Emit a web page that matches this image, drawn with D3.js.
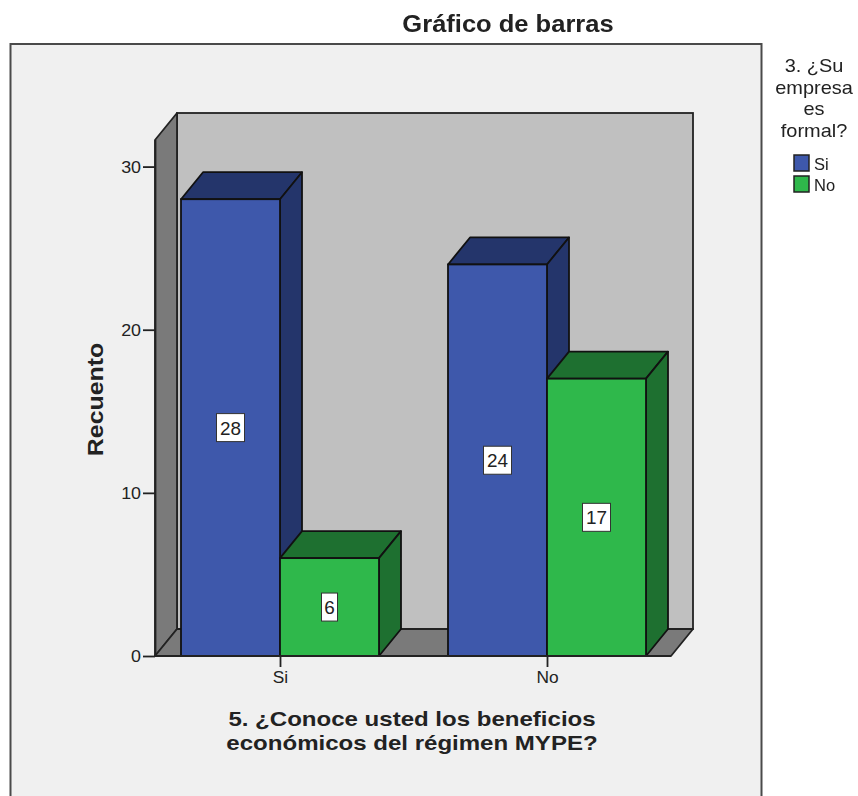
<!DOCTYPE html>
<html>
<head>
<meta charset="utf-8">
<script src="https://cdn.jsdelivr.net/npm/d3@7"></script>
<style>
    html, body { margin: 0; padding: 0; background: #fff; overflow: hidden; }
    text { font-family: "Liberation Sans", Arial, sans-serif; fill: #222; }
    svg { filter: blur(0.45px); }
</style>
</head>
<body>
<div id="chart"></div>
<script>
// Bar chart values
const categories = ['Si', 'No'];
const seriesNames = ['Si', 'No'];
const siValues = [28, 24];
const noValues = [6, 17];
const yTicks = [0, 10, 20, 30];
const legendTitle = ['3. ¿Su', 'empresa', 'es', 'formal?'];
const xTitle = ['5. ¿Conoce usted los beneficios', 'económicos del régimen MYPE?'];

const width = 858;
const height = 796;

// 3D offset of the back wall
const depthX = 22;
const depthY = -27;

const colors = {
    Si: { front: '#3e58ab', side: '#24356b', top: '#24356b' },
    No: { front: '#2fb84b', side: '#1e7030', top: '#1e7030' }
};

const svg = d3.select('#chart')
    .append('svg')
    .attr('width', width)
    .attr('height', height);

// The reference text is wider than the font, so stretch it around its anchor
function stretchText(sel, sx) {
    sel.each(function() {
        const t = d3.select(this);
        const x = +t.attr('x') || 0;
        const y = +t.attr('y') || 0;
        t.attr('x', null)
            .attr('y', null)
            .attr('transform', `translate(${x},${y}) scale(${sx},1)`);
    });
}

// Scales
const xScale = d3.scalePoint()
    .domain(categories)
    .range([280, 547]);

const barScale = d3.scaleBand()
    .domain(seriesNames)
    .range([-99, 99]);

const yScale = d3.scaleLinear()
    .domain([0, 31.66])
    .range([656, 139.5]);

const plotLeft = 155;
const plotRight = 671;
const plotBottom = yScale(0);
const plotTop = 140;

// Outer frame, runs past the bottom of the window
svg.append('rect')
    .attr('x', 10.5)
    .attr('y', 44)
    .attr('width', 751)
    .attr('height', 800)
    .attr('fill', '#f0f0f0')
    .attr('stroke', '#4a4a4a')
    .attr('stroke-width', 2);

const poly = pts => pts.map(p => p.join(',')).join(' ');

// Back wall
svg.append('rect')
    .attr('x', plotLeft + depthX)
    .attr('y', plotTop + depthY)
    .attr('width', plotRight - plotLeft)
    .attr('height', plotBottom - plotTop)
    .attr('fill', '#c0c0c0')
    .attr('stroke', '#222')
    .attr('stroke-width', 1.8);

// Left wall
svg.append('polygon')
    .attr('points', poly([
        [plotLeft, plotTop],
        [plotLeft + depthX, plotTop + depthY],
        [plotLeft + depthX, plotBottom + depthY],
        [plotLeft, plotBottom]
    ]))
    .attr('fill', '#7a7a7a')
    .attr('stroke', '#222')
    .attr('stroke-width', 1.8)
    .attr('stroke-linejoin', 'round');

// Floor
svg.append('polygon')
    .attr('points', poly([
        [plotLeft, plotBottom],
        [plotLeft + depthX, plotBottom + depthY],
        [plotRight + depthX, plotBottom + depthY],
        [plotRight, plotBottom]
    ]))
    .attr('fill', '#7a7a7a')
    .attr('stroke', '#222')
    .attr('stroke-width', 1.8)
    .attr('stroke-linejoin', 'round');

// Build bar rows from the series arrays
const bars = [];
categories.forEach((cat, i) => {
    bars.push({ cat: cat, series: 'Si', value: siValues[i] });
    bars.push({ cat: cat, series: 'No', value: noValues[i] });
});

const bar = svg.selectAll('.bar')
    .data(bars)
    .enter()
    .append('g')
    .attr('class', 'bar');

const barLeft = d => xScale(d.cat) + barScale(d.series);
const barRight = d => barLeft(d) + barScale.bandwidth();

// Top face
bar.append('polygon')
    .attr('points', d => poly([
        [barLeft(d), yScale(d.value)],
        [barLeft(d) + depthX, yScale(d.value) + depthY],
        [barRight(d) + depthX, yScale(d.value) + depthY],
        [barRight(d), yScale(d.value)]
    ]))
    .attr('fill', d => colors[d.series].top)
    .attr('stroke', '#111')
    .attr('stroke-width', 1.8)
    .attr('stroke-linejoin', 'round');

// Side face
bar.append('polygon')
    .attr('points', d => poly([
        [barRight(d), yScale(d.value)],
        [barRight(d) + depthX, yScale(d.value) + depthY],
        [barRight(d) + depthX, plotBottom + depthY],
        [barRight(d), plotBottom]
    ]))
    .attr('fill', d => colors[d.series].side)
    .attr('stroke', '#111')
    .attr('stroke-width', 1.8)
    .attr('stroke-linejoin', 'round');

// Front face
bar.append('rect')
    .attr('x', barLeft)
    .attr('y', d => yScale(d.value))
    .attr('width', barScale.bandwidth())
    .attr('height', d => plotBottom - yScale(d.value))
    .attr('fill', d => colors[d.series].front)
    .attr('stroke', '#111')
    .attr('stroke-width', 1.8);

// Value labels
bar.append('rect')
    .attr('x', d => (barLeft(d) + barRight(d)) / 2 - (d.value >= 10 ? 14 : 8))
    .attr('y', d => (yScale(d.value) + plotBottom) / 2 - 14)
    .attr('width', d => d.value >= 10 ? 28 : 16)
    .attr('height', 28)
    .attr('fill', '#fff')
    .attr('stroke', '#333')
    .attr('stroke-width', 1);

bar.append('text')
    .attr('x', d => (barLeft(d) + barRight(d)) / 2)
    .attr('y', d => (yScale(d.value) + plotBottom) / 2 + 7)
    .attr('text-anchor', 'middle')
    .style('font-size', '18px')
    .text(d => d.value)
    .call(stretchText, 1.05);

// Y axis
const yAxis = svg.append('g')
    .attr('transform', `translate(${plotLeft},0)`)
    .call(d3.axisLeft(yScale).tickValues(yTicks).tickSize(12).tickPadding(2).tickSizeOuter(0));
yAxis.select('.domain').attr('stroke', '#222').attr('stroke-width', 1.8);
yAxis.selectAll('line').attr('stroke', '#222').attr('stroke-width', 1.8);
yAxis.selectAll('text')
    .style('font-size', '17px')
    .style('font-family', '"Liberation Sans", Arial, sans-serif')
    .call(stretchText, 1.05);

// X axis
const xAxis = svg.append('g')
    .attr('transform', `translate(0,${plotBottom})`)
    .call(d3.axisBottom(xScale).tickSize(11).tickPadding(4));
xAxis.select('.domain').remove();
xAxis.selectAll('line').attr('stroke', '#222').attr('stroke-width', 1.8);
xAxis.selectAll('text')
    .style('font-size', '16.5px')
    .style('font-family', '"Liberation Sans", Arial, sans-serif')
    .call(stretchText, 1.05);

svg.append('line')
    .attr('x1', plotLeft)
    .attr('x2', plotRight)
    .attr('y1', plotBottom)
    .attr('y2', plotBottom)
    .attr('stroke', '#222')
    .attr('stroke-width', 1.8);

// Titles
svg.append('text')
    .attr('x', 508)
    .attr('y', 32)
    .attr('text-anchor', 'middle')
    .style('font-size', '23px')
    .style('font-weight', 'bold')
    .text('Gráfico de barras')
    .call(stretchText, 1.11);

svg.append('text')
    .attr('transform', 'translate(103,399.5) rotate(-90) scale(1.13,1)')
    .attr('text-anchor', 'middle')
    .style('font-size', '22px')
    .style('font-weight', 'bold')
    .text('Recuento');

svg.selectAll('.x-title')
    .data(xTitle)
    .enter()
    .append('text')
    .attr('class', 'x-title')
    .attr('x', 412)
    .attr('y', (d, i) => 726 + i * 24)
    .attr('text-anchor', 'middle')
    .style('font-size', '21px')
    .style('font-weight', 'bold')
    .text(d => d)
    .call(stretchText, 1.145);

// Legend
svg.selectAll('.legend-title')
    .data(legendTitle)
    .enter()
    .append('text')
    .attr('class', 'legend-title')
    .attr('x', 814)
    .attr('y', (d, i) => 72 + i * 21.5)
    .attr('text-anchor', 'middle')
    .style('font-size', '19px')
    .text(d => d)
    .call(stretchText, 1.05);

const legendItem = svg.selectAll('.legend-item')
    .data(seriesNames)
    .enter()
    .append('g')
    .attr('class', 'legend-item')
    .attr('transform', (d, i) => `translate(794,${155 + i * 21})`);

legendItem.append('rect')
    .attr('width', 15)
    .attr('height', 16)
    .attr('fill', d => colors[d].front)
    .attr('stroke', '#222')
    .attr('stroke-width', 1.5);

legendItem.append('text')
    .attr('x', 20)
    .attr('y', 14.5)
    .style('font-size', '16.5px')
    .text(d => d)
    .call(stretchText, 1.0);
</script>
</body>
</html>
